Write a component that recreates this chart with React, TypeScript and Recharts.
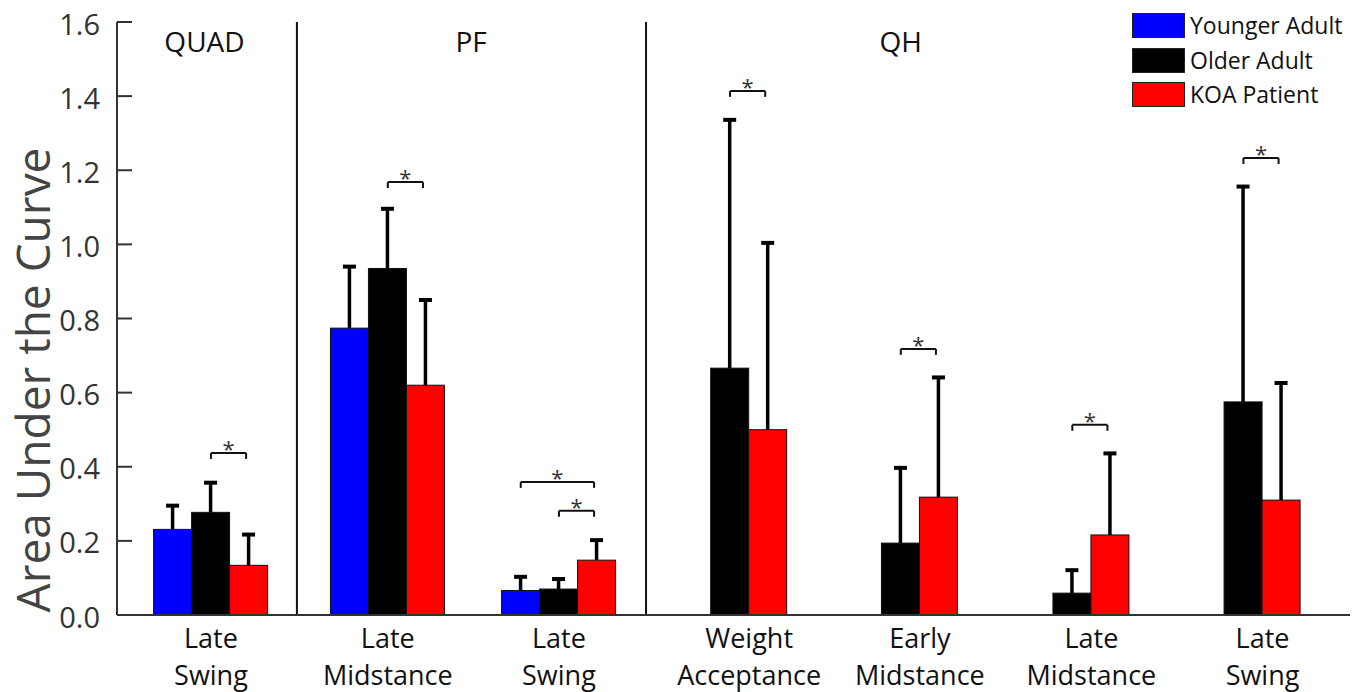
import React from 'react';
import { BarChart, Bar, XAxis, YAxis, ReferenceLine, ReferenceDot, Legend } from 'recharts';

const FONT = '"Open Sans", "Noto Sans", sans-serif';

// Category labels (two lines each)
const categories: string[][] = [
  ['Late', 'Swing'],
  ['Late', 'Midstance'],
  ['Late', 'Swing'],
  ['Weight', 'Acceptance'],
  ['Early', 'Midstance'],
  ['Late', 'Midstance'],
  ['Late', 'Swing'],
];

// Position of each category group on the numeric x axis (in bar-width units)
const groupX = [2.46, 7.09, 11.57, 16.05, 20.52, 25.01, 29.49];

// Series names (legend order)
const seriesNames = ['Younger Adult', 'Older Adult', 'KOA Patient'];

// Series means and SDs (upper error)
const youngerMean: (number | null)[] = [0.231, 0.774, 0.066, null, null, null, null];
const youngerSD: (number | null)[] = [0.064, 0.166, 0.037, null, null, null, null];
const olderMean = [0.277, 0.935, 0.07, 0.666, 0.194, 0.059, 0.575];
const olderSD = [0.08, 0.161, 0.027, 0.67, 0.203, 0.062, 0.581];
const koaMean = [0.134, 0.62, 0.148, 0.5, 0.318, 0.216, 0.31];
const koaSD = [0.083, 0.23, 0.054, 0.504, 0.323, 0.22, 0.316];

const yTicks = [0, 0.2, 0.4, 0.6, 0.8, 1.0, 1.2, 1.4, 1.6];

// Muscle sections
const sectionNames = ['QUAD', 'PF', 'QH'];
const sectionX = [2.29, 9.27, 20.52];
const dividerX = [4.71, 13.85];

// Significance brackets: group index, series from/to (0 younger, 1 older, 2 KOA), height
const bracketGroup = [0, 1, 2, 2, 3, 4, 5, 6];
const bracketFrom = [1, 1, 0, 1, 1, 1, 1, 1];
const bracketTo = [2, 2, 2, 2, 2, 2, 2, 2];
const bracketY = [0.437, 1.168, 0.359, 0.281, 1.414, 0.718, 0.513, 1.233];

const data = groupX.map((x, i) => ({
  x,
  young: youngerMean[i],
  youngErr: youngerSD[i],
  old: olderMean[i],
  oldErr: olderSD[i],
  koa: koaMean[i],
  koaErr: koaSD[i],
}));

const tickPositions = groupX.map((x, i) => (youngerMean[i] == null ? x + 0.5 : x));

function makeShape(valKey: string, errKey: string) {
  return (props: any) => {
    const { x, y, width, height, fill, payload } = props;
    const v = payload ? payload[valKey] : null;
    const e = payload ? payload[errKey] : null;
    if (v == null || !(height > 0)) return null;
    const pxPer = height / v;
    const cx = x + width / 2;
    const top = y - (e ?? 0) * pxPer;
    return (
      <g>
        <rect x={x} y={y} width={width} height={height} fill={fill} stroke="#111" strokeWidth={1} />
        {e ? (
          <g>
            <line x1={cx} x2={cx} y1={y} y2={top} stroke="#000" strokeWidth={3.5} />
            <line x1={cx - 6.5} x2={cx + 6.5} y1={top} y2={top} stroke="#000" strokeWidth={4} />
          </g>
        ) : null}
      </g>
    );
  };
}

const YTick = (props: any) => {
  const { x, y, payload } = props;
  return (
    <g>
      <line x1={x} x2={x + 15} y1={y} y2={y} stroke="#333" strokeWidth={2} />
      <text x={x - 17} y={y} dy={12.5} textAnchor="end" fontSize={29} fill="#333" fontFamily={FONT}>
        {Number(payload.value).toFixed(1)}
      </text>
    </g>
  );
};

const XTick = (props: any) => {
  const { x, y, payload } = props;
  const idx = tickPositions.findIndex((t) => Math.abs(t - payload.value) < 1e-6);
  const lines = categories[idx] || [];
  return (
    <g>
      <text x={x} y={y + 33} textAnchor="middle" fontSize={27} fill="#111" fontFamily={FONT}>
        {lines[0]}
      </text>
      <text x={x} y={y + 70} textAnchor="middle" fontSize={27} fill="#111" fontFamily={FONT}>
        {lines[1]}
      </text>
    </g>
  );
};

const YTitle = () => (
  <text
    transform="translate(50, 380) rotate(-90)"
    textAnchor="middle"
    fontSize={46}
    fill="#444"
    fontFamily={FONT}
  >
    Area Under the Curve
  </text>
);

const StarLabel = (props: any) => {
  const vb = props.viewBox || {};
  const cx = (vb.x || 0) + (vb.width || 0) / 2;
  const cy = (vb.y || 0) + (vb.height || 0) / 2;
  return (
    <text x={cx} y={cy + 4} textAnchor="middle" fontSize={22} fill="#333" fontFamily={FONT}>
      *
    </text>
  );
};

const SectionLabel = (props: any) => {
  const vb = props.viewBox || {};
  const cx = (vb.x || 0) + (vb.width || 0) / 2;
  const cy = (vb.y || 0) + (vb.height || 0) / 2;
  return (
    <text x={cx} y={cy + 30} textAnchor="middle" fontSize={28} fill="#111" fontFamily={FONT}>
      {props.text}
    </text>
  );
};

const renderLegend = (props: any) => {
  const payload = [...(props.payload || [])].sort(
    (a: any, b: any) => seriesNames.indexOf(a.value) - seriesNames.indexOf(b.value)
  );
  return (
    <div style={{ fontFamily: FONT }}>
      {payload.map((e: any) => (
        <div
          key={e.value}
          style={{ display: 'flex', alignItems: 'center', height: 25, marginBottom: 9.5 }}
        >
          <div
            style={{
              width: 53,
              height: 25,
              background: (e.payload && e.payload.fill) || e.color,
              boxSizing: 'border-box',
              border: '1px solid #222',
            }}
          />
          <span style={{ marginLeft: 5, fontSize: 23, color: '#111', lineHeight: '25px' }}>
            {e.value}
          </span>
        </div>
      ))}
    </div>
  );
};

export default function App() {
  const drop = 0.016;
  return (
    <div style={{ position: 'absolute', left: 0, top: 0, background: '#fff', fontFamily: FONT }}>
      <BarChart
        width={1360}
        height={692}
        data={data}
        margin={{ top: 22, right: 10, bottom: 0, left: 0 }}
        barGap={0}
        barCategoryGap={0}
      >
        <XAxis
          dataKey="x"
          type="number"
          domain={[0, 32.28]}
          ticks={tickPositions}
          interval={0}
          height={77}
          tickSize={0}
          tickMargin={0}
          tickLine={false}
          axisLine={{ stroke: '#333', strokeWidth: 2 }}
          tick={<XTick />}
          allowDataOverflow
        />
        <YAxis
          type="number"
          domain={[0, 1.6]}
          ticks={yTicks}
          interval={0}
          width={117}
          tickSize={0}
          tickMargin={0}
          tickLine={false}
          axisLine={{ stroke: '#333', strokeWidth: 2 }}
          tick={<YTick />}
          label={<YTitle />}
          allowDataOverflow
        />
        <Legend
          layout="horizontal"
          verticalAlign="middle"
          align="center"
          content={renderLegend}
          wrapperStyle={{ top: 13, left: 1132, width: 225 }}
        />
        <Bar
          dataKey="young"
          name={seriesNames[0]}
          fill="#0000ff"
          barSize={38}
          isAnimationActive={false}
          shape={makeShape('young', 'youngErr')}
        />
        <Bar
          dataKey="old"
          name={seriesNames[1]}
          fill="#000000"
          barSize={38}
          isAnimationActive={false}
          shape={makeShape('old', 'oldErr')}
        />
        <Bar
          dataKey="koa"
          name={seriesNames[2]}
          fill="#ff0000"
          barSize={38}
          isAnimationActive={false}
          shape={makeShape('koa', 'koaErr')}
        />
        {dividerX.map((dx) => (
          <ReferenceLine key={'d' + dx} x={dx} stroke="#111" strokeWidth={2} />
        ))}
        {sectionNames.map((n, i) => (
          <ReferenceDot
            key={'s' + n}
            x={sectionX[i]}
            y={1.6}
            r={0}
            fill="none"
            stroke="none"
            label={<SectionLabel text={n} />}
          />
        ))}
        {bracketY.map((by, i) => {
          const g = bracketGroup[i];
          const x1 = groupX[g] + bracketFrom[i] - 1;
          const x2 = groupX[g] + bracketTo[i] - 1 - 0.08;
          return (
            <React.Fragment key={'b' + i}>
              <ReferenceLine
                segment={[{ x: x1, y: by }, { x: x2, y: by }]}
                stroke="#111"
                strokeWidth={2}
              />
              <ReferenceLine
                segment={[{ x: x1, y: by }, { x: x1, y: by - drop }]}
                stroke="#111"
                strokeWidth={2}
              />
              <ReferenceLine
                segment={[{ x: x2, y: by }, { x: x2, y: by - drop }]}
                stroke="#111"
                strokeWidth={2}
              />
              <ReferenceDot
                x={(x1 + x2) / 2}
                y={by}
                r={0}
                fill="none"
                stroke="none"
                label={<StarLabel />}
              />
            </React.Fragment>
          );
        })}
      </BarChart>
    </div>
  );
}
